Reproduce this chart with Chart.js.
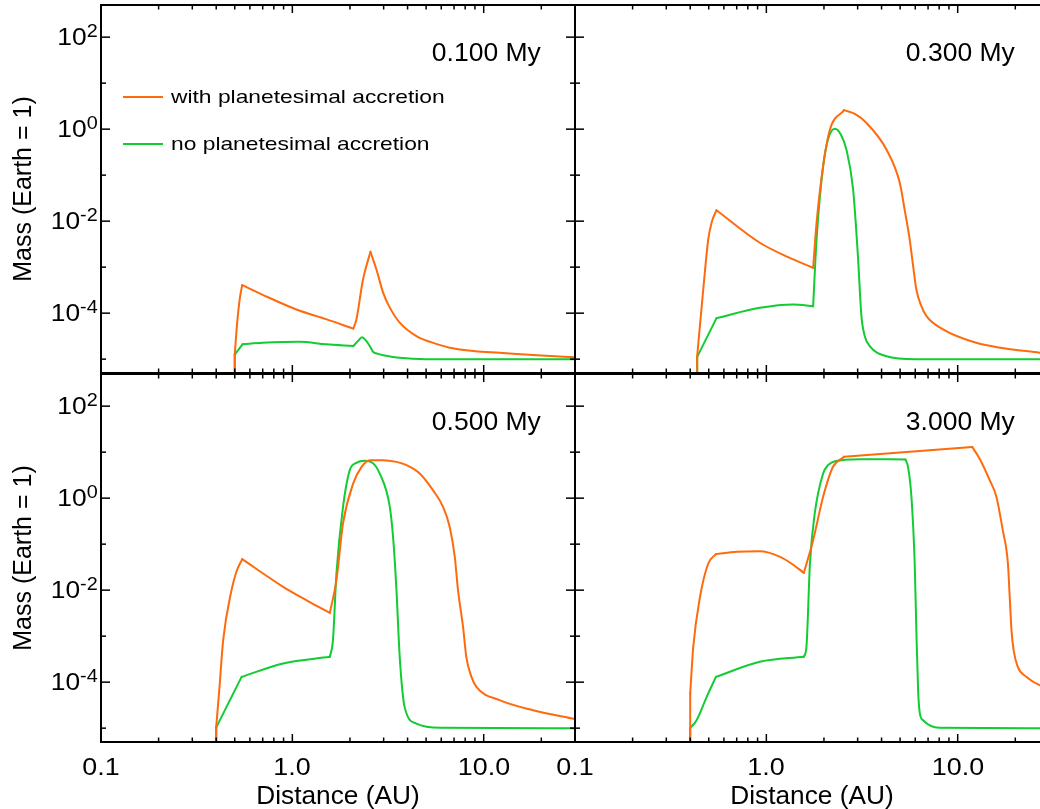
<!DOCTYPE html>
<html>
<head>
<meta charset="utf-8">
<script src="https://cdn.jsdelivr.net/npm/chart.js@4.4.0/dist/chart.umd.min.js"></script>
<style>
html,body{margin:0;padding:0;background:#fff;}
body{width:1040px;height:809px;overflow:hidden;position:relative;font-family:"Liberation Sans",Arial,Helvetica,sans-serif;color:#000;}
canvas{position:absolute;}
.t{position:absolute;white-space:nowrap;line-height:1;}
.sup{position:relative;font-size:18px;top:-8px;}
</style>
</head>
<body>
<script>
// ---------------- data ----------------
const seriesNames = ['with planetesimal accretion', 'no planetesimal accretion'];
const panelTimes = ['0.100 My', '0.300 My', '0.500 My', '3.000 My'];

const xTickValues = [0.1, 1, 10];
const xTickLabels = ['0.1', '1.0', '10.0'];
const xMinorValues = [0.2,0.3,0.4,0.5,0.6,0.7,0.8,0.9,2,3,4,5,6,7,8,9,20,30];
const yTickValues = [1e-4, 1e-2, 1, 1e2];
const yTickExps = ['-4', '-2', '0', '2'];
const yMinorValues = [1e-5, 1e-3, 1e-1, 1e1];

// panel 1 : 0.100 My
const p1WithX = [0.5,0.5,0.515,0.532,0.547,0.7,1.05,1.5,2.08,2.16,2.34,2.56,2.75,2.98,3.2,3.64,4.45,5.3,6.64,9,12.1,20,30];
const p1WithY = [1e-7,1.26e-5,6.3e-5,2.16e-4,4.07e-4,2.5e-4,1.2e-4,7.4e-5,4.6e-5,7.2e-5,5.4e-4,2.16e-3,8.9e-4,2.8e-4,1.42e-4,6.2e-5,3.16e-5,2.34e-5,1.77e-5,1.49e-5,1.38e-5,1.2e-5,1.1e-5];
const p1WithCorners = [0.5,0.547,2.08,2.56];
const p1NoX = [0.5,0.5,0.55,0.7,1.09,1.5,2.08,2.2,2.31,2.45,2.55,2.64,2.8,3.0,3.64,5,30];
const p1NoY = [1e-7,1.26e-5,2.12e-5,2.27e-5,2.39e-5,2.1e-5,1.92e-5,2.46e-5,3.0e-5,2.4e-5,1.86e-5,1.45e-5,1.3e-5,1.22e-5,1.07e-5,1.0e-5,1.0e-5];
const p1NoCorners = [0.5,0.55,2.08];

// panel 2 : 0.300 My
const p2WithX = [0.435,0.435,0.468,0.497,0.52,0.549,0.925,1.3,1.756,1.83,1.98,2.15,2.55,2.9,3.33,4.24,4.98,5.28,5.61,5.85,6.08,6.46,6.87,8.38,12.5,26.8,30];
const p2WithY = [1e-7,1.16e-5,3.27e-4,4.0e-3,1.0e-2,1.73e-2,3.39e-3,1.65e-3,9.7e-4,9.2e-3,0.157,0.984,2.59,2.14,1.38,0.362,6.84e-2,1.78e-2,4.0e-3,1.05e-3,3.27e-4,1.42e-4,8.6e-5,4.43e-5,2.28e-5,1.38e-5,1.32e-5];
const p2WithCorners = [0.435,0.549,1.756,2.55];
const p2NoX = [0.435,0.435,0.549,0.925,1.38,1.756,1.83,1.98,2.10,2.28,2.45,2.62,2.84,3.01,3.14,3.27,3.47,4.24,6,30];
const p2NoY = [1e-7,1.12e-5,7.8e-5,1.31e-4,1.55e-4,1.42e-4,4.0e-3,0.157,0.597,1.02,0.766,0.362,4.89e-2,1.74e-3,8.6e-5,3.16e-5,1.92e-5,1.16e-5,1.0e-5,1.0e-5];
const p2NoCorners = [0.435,0.549,1.756];

// panel 3 : 0.500 My
const p3WithX = [0.4,0.4,0.415,0.435,0.481,0.51,0.547,0.895,1.2,1.57,1.70,1.84,2.08,2.30,2.54,2.98,3.50,3.95,4.63,5.43,6.13,6.64,7.06,7.34,7.80,8.11,8.63,9.16,12.1,18.1,30];
const p3WithY = [1e-7,1.07e-5,6.7e-5,8.2e-4,1.0e-2,2.51e-2,4.72e-2,1.18e-2,5.86e-3,3.21e-3,1.65e-2,0.282,2.09,4.79,6.70,6.70,6.15,5.21,3.44,1.49,0.647,0.238,5.3e-2,1.0e-2,1.59e-3,3.55e-4,1.30e-4,7.9e-5,4.07e-5,2.46e-5,1.57e-5];
const p3WithCorners = [0.4,0.547,1.57];
const p3NoX = [0.4,0.4,0.453,0.543,0.895,1.57,1.63,1.70,1.84,1.995,2.16,2.39,2.62,2.86,3.23,3.37,3.50,3.64,3.86,4.45,6,30];
const p3NoY = [1e-7,1.03e-5,2.9e-5,1.30e-4,2.55e-4,3.55e-4,8.2e-4,2.31e-2,0.647,4.06,5.86,6.47,5.86,3.44,0.647,0.122,1.0e-2,3.55e-4,2.9e-5,1.26e-5,1.02e-5,1.0e-5];
const p3NoCorners = [0.4,0.543,1.57];

// panel 4 : 3.000 My
const p4WithX = [0.4,0.4,0.415,0.45,0.497,0.545,0.7,0.925,1.18,1.35,1.57,1.756,1.98,2.23,2.55,11.9,13.0,14.7,15.9,17.2,18.3,18.7,19.1,19.6,20.6,22.9,26.8,30];
const p4WithY = [1e-7,5.7e-5,5.86e-4,7.1e-3,3.8e-2,6.07e-2,6.8e-2,7.0e-2,5.3e-2,3.8e-2,2.38e-2,0.122,1.07,4.8,7.9,13.0,7.3,2.46,1.10,0.201,3.8e-2,7.1e-3,1.35e-3,4.97e-4,2.15e-4,1.30e-4,8.6e-5,7.6e-5];
const p4WithCorners = [0.4,0.545,1.57,2.55,11.9];
const p4NoX = [0.4,0.4,0.432,0.488,0.545,0.925,1.57,1.62,1.69,1.79,1.98,2.10,2.28,3.08,5.33,5.50,5.73,5.96,6.08,6.21,6.34,6.59,8,30];
const p4NoY = [1e-7,1.0e-5,1.49e-5,4.8e-5,1.30e-4,2.77e-4,3.55e-4,5.86e-4,3.8e-2,0.465,3.44,5.21,6.37,7.05,6.93,4.79,1.07,3.8e-2,1.35e-3,6.7e-5,2.09e-5,1.49e-5,1.02e-5,1.0e-5];
const p4NoCorners = [0.4,0.545,1.57,5.33];

// ---------------- layout / style ----------------
const COL_WITH = '#ff6a0d';
const COL_NO = '#11cc33';
const PAD = 12;
const PW = 474, PH = 368;
const panels = [
  {left:101, top:5,   wx:p1WithX, wy:p1WithY, wc:p1WithCorners, nx:p1NoX, ny:p1NoY, nc:p1NoCorners, time:panelTimes[0], yLabels:true,  xLabels:false, legend:true},
  {left:575, top:5,   wx:p2WithX, wy:p2WithY, wc:p2WithCorners, nx:p2NoX, ny:p2NoY, nc:p2NoCorners, time:panelTimes[1], yLabels:false, xLabels:false, legend:false},
  {left:101, top:374, wx:p3WithX, wy:p3WithY, wc:p3WithCorners, nx:p3NoX, ny:p3NoY, nc:p3NoCorners, time:panelTimes[2], yLabels:true,  xLabels:true,  legend:false},
  {left:575, top:374, wx:p4WithX, wy:p4WithY, wc:p4WithCorners, nx:p4NoX, ny:p4NoY, nc:p4NoCorners, time:panelTimes[3], yLabels:false, xLabels:true,  legend:false}
];

// split a series into smooth pieces at its sharp corners
function pieces(xs, ys, corners){
  const out = [];
  let cur = [{x:xs[0], y:ys[0]}];
  for (let i = 1; i < xs.length; i++){
    cur.push({x:xs[i], y:ys[i]});
    if (i < xs.length-1 && corners.includes(xs[i])){
      out.push(cur);
      cur = [{x:xs[i], y:ys[i]}];
    }
  }
  out.push(cur);
  return out;
}
function datasetsFor(name, xs, ys, corners, color){
  return pieces(xs, ys, corners).map(d=>({
    label:name, data:d, borderColor:color, borderWidth:2, pointRadius:0,
    cubicInterpolationMode:'monotone', borderCapStyle:'round', borderJoinStyle:'round', fill:false
  }));
}

const framePlugin = {
  id:'frame',
  afterDatasetsDraw(chart){
    const {ctx, chartArea:a, scales} = chart;
    const sx = scales.x, sy = scales.y;
    ctx.save();
    ctx.strokeStyle = '#000';
    ctx.lineWidth = 1.5;
    const seg = (x1,y1,x2,y2)=>{ctx.beginPath();ctx.moveTo(x1,y1);ctx.lineTo(x2,y2);ctx.stroke();};
    xTickValues.concat(xMinorValues).forEach(v=>{
      const px = sx.getPixelForValue(v);
      const len = xTickValues.includes(v) ? 8 : 4.5;
      seg(px, a.bottom, px, a.bottom-len);
      seg(px, a.top, px, a.top+len);
    });
    yTickValues.concat(yMinorValues).forEach(v=>{
      const py = sy.getPixelForValue(v);
      const len = yTickValues.includes(v) ? 9 : 5;
      seg(a.left, py, a.left+len, py);
      seg(a.right, py, a.right-len, py);
    });
    ctx.lineWidth = 2;
    ctx.strokeRect(a.left, a.top, a.right-a.left, a.bottom-a.top);
    ctx.restore();
  }
};

function addText(html, css){
  const d = document.createElement('div');
  d.className = 't';
  d.innerHTML = html;
  Object.assign(d.style, css);
  document.body.appendChild(d);
  return d;
}

panels.forEach(p=>{
  const cv = document.createElement('canvas');
  cv.width = PW + 2*PAD; cv.height = PH + 2*PAD;
  cv.style.left = (p.left-PAD)+'px';
  cv.style.top = (p.top-PAD)+'px';
  document.body.appendChild(cv);
  const chart = new Chart(cv.getContext('2d'), {
    type:'line',
    data:{datasets: datasetsFor(seriesNames[0], p.wx, p.wy, p.wc, COL_WITH)
                      .concat(datasetsFor(seriesNames[1], p.nx, p.ny, p.nc, COL_NO))},
    options:{
      responsive:false, animation:false, events:[],
      layout:{padding:PAD},
      plugins:{legend:{display:false}, tooltip:{enabled:false}},
      scales:{
        x:{type:'logarithmic', min:0.1, max:30, display:false},
        y:{type:'logarithmic', min:5e-6, max:500, display:false}
      }
    },
    plugins:[framePlugin]
  });
  const offX = p.left - PAD, offY = p.top - PAD;
  const sx = chart.scales.x, sy = chart.scales.y, a = chart.chartArea;
  // panel time label
  addText(p.time, {fontSize:'25px', right:(1040-(offX+a.right-34))+'px', top:(offY+a.top+47-12)+'px', transform:'scaleX(1.06)', transformOrigin:'right center'});
  if (p.yLabels){
    yTickValues.forEach((v,i)=>{
      const py = offY + sy.getPixelForValue(v);
      addText('10<span class="sup">'+yTickExps[i]+'</span>', {fontSize:'24px', right:(1040-(offX+a.left-3))+'px', top:(py-12)+'px', transform:'scaleX(1.1)', transformOrigin:'right center'});
    });
    const cyMid = offY + (a.top+a.bottom)/2;
    addText('Mass (Earth = 1)', {fontSize:'25px', left:'22px', top:cyMid+'px', transform:'translate(-50%,-50%) rotate(-90deg)'});
  }
  if (p.xLabels){
    xTickValues.forEach((v,i)=>{
      const px = offX + sx.getPixelForValue(v);
      addText(xTickLabels[i], {fontSize:'24px', left:px+'px', top:'755px', transform:'translateX(-50%) scaleX(1.12)'});
    });
    const cxMid = offX + (a.left+a.right)/2;
    addText('Distance (AU)', {fontSize:'25px', left:cxMid+'px', top:'783px', transform:'translateX(-50%) scaleX(1.05)'});
  }
  if (p.legend){
    const lx = offX + a.left + 22;
    [COL_WITH, COL_NO].forEach((c,i)=>{
      const ly = offY + a.top + 92 + i*47;
      const ln = document.createElement('div');
      Object.assign(ln.style, {position:'absolute', left:lx+'px', top:(ly-1)+'px', width:'40px', height:'0', borderTop:'2px solid '+c});
      document.body.appendChild(ln);
      addText(seriesNames[i], {fontSize:'19px', left:(lx+48)+'px', top:(ly-10)+'px', transform:'scaleX(1.2)', transformOrigin:'left center'});
    });
  }
});
</script>
</body>
</html>
